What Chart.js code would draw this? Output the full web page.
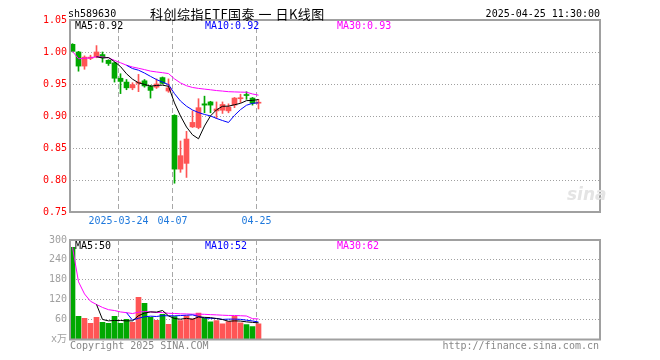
<!DOCTYPE html>
<html><head><meta charset="utf-8">
<script src="https://cdn.jsdelivr.net/npm/chart.js@4.4.1/dist/chart.umd.min.js"></script>
<style>
html,body{margin:0;padding:0;background:#fff;}
#wrap{position:relative;width:660px;height:360px;overflow:hidden;font-family:"DejaVu Sans Mono","Noto Sans CJK SC",monospace;font-size:10px;}
canvas{position:absolute;left:0;}
.t{position:absolute;white-space:nowrap;line-height:12px;}
</style></head><body>
<div id="wrap">
<canvas id="k" width="660" height="230" style="top:0"></canvas>
<canvas id="v" width="660" height="130" style="top:230px"></canvas>
<div class="t" style="left:68px;top:8px;color:#000">sh589630</div>
<div class="t" style="left:150px;top:6px;color:#000;font-family:'Noto Sans CJK SC';font-size:13px;line-height:16px;letter-spacing:0.5px">科创综指ETF国泰 一 日K线图</div>
<div class="t" style="right:60px;top:8px;color:#000">2025-04-25 11:30:00</div>
<div class="t" id="pma5" style="left:75px;top:20px;color:#000"></div>
<div class="t" id="pma10" style="left:205px;top:20px;color:#0000ff"></div>
<div class="t" id="pma30" style="left:337px;top:20px;color:#ff00ff"></div>
<div class="t" id="vma5" style="left:75px;top:240px;color:#000"></div>
<div class="t" id="vma10" style="left:205px;top:240px;color:#0000ff"></div>
<div class="t" id="vma30" style="left:337px;top:240px;color:#ff00ff"></div>
<div class="t" style="left:567px;top:184px;color:#e4e4e4;font-family:'DejaVu Sans';font-weight:bold;font-style:italic;font-size:17px;line-height:20px">sina</div>
<div class="t" style="left:70px;top:340px;color:#888">Copyright 2025 SINA.COM</div>
<div class="t" style="right:61px;top:340px;color:#888">http://finance.sina.com.cn</div>
</div>
<script>
// ---- data ----
const dates = ['2025-03-12','2025-03-13','2025-03-14','2025-03-17','2025-03-18','2025-03-19','2025-03-20','2025-03-21','2025-03-24','2025-03-25','2025-03-26','2025-03-27','2025-03-28','2025-03-31','2025-04-01','2025-04-02','2025-04-03','2025-04-07','2025-04-08','2025-04-09','2025-04-10','2025-04-11','2025-04-14','2025-04-15','2025-04-16','2025-04-17','2025-04-18','2025-04-21','2025-04-22','2025-04-23','2025-04-24','2025-04-25'];
const openP  = [1.012,1.000,0.978,0.990,0.9925,0.996,0.987,0.983,0.959,0.953,0.944,0.951,0.955,0.946,0.945,0.960,0.939,0.901,0.817,0.826,0.883,0.882,0.919,0.922,0.908,0.909,0.908,0.917,0.927,0.933,0.928,0.920];
const highP  = [1.013,1.001,0.994,0.995,1.010,1.000,0.988,0.984,0.966,0.957,0.952,0.965,0.957,0.948,0.958,0.961,0.958,0.902,0.861,0.876,0.908,0.927,0.931,0.923,0.922,0.922,0.919,0.929,0.934,0.938,0.929,0.926];
const lowP   = [1.000,0.970,0.973,0.988,0.991,0.984,0.979,0.953,0.935,0.941,0.941,0.938,0.945,0.928,0.943,0.950,0.937,0.795,0.812,0.804,0.882,0.880,0.905,0.905,0.896,0.904,0.905,0.913,0.921,0.926,0.917,0.911];
const closeP = [1.001,0.978,0.992,0.992,1.000,0.991,0.982,0.959,0.954,0.944,0.949,0.953,0.947,0.940,0.950,0.951,0.944,0.817,0.838,0.864,0.890,0.913,0.917,0.917,0.911,0.918,0.914,0.928,0.928,0.932,0.920,0.921];
const volume = [278,70,64,49,67,52,49,70,49,61,52,127,109,67,58,76,46,69,57,71,62,80,64,53,57,47,54,70,50,45,39,47];
const priceTicks = [0.75,0.80,0.85,0.90,0.95,1.00,1.05];
const volTicks = [0,60,120,180,240,300];
const dateTickIdx = [8,17,31];
const dateTickLabels = ['2025-03-24','04-07','04-25'];

// ---- helpers ----
const RED = '#ff5555', GREEN = '#00a800';
const isUp = i => closeP[i] >= openP[i];
const barColor = i => isUp(i) ? RED : GREEN;
function ma(arr, n, expanding){
  return arr.map((_, i) => {
    if (i < n - 1 && !expanding) return {x:i, y:null};
    const s = Math.max(0, i - n + 1);
    let sum = 0; for (let k = s; k <= i; k++) sum += arr[k];
    return {x:i, y: sum / (i - s + 1)};
  });
}
const pMA5 = ma(closeP,5,false), pMA10 = ma(closeP,10,false), pMA30 = ma(closeP,30,true);
const vMA5 = ma(volume,5,false), vMA10 = ma(volume,10,false), vMA30 = ma(volume,30,true);
const last = a => a[a.length-1].y;
const f2 = v => (Math.floor(v*100 + 1e-7)/100).toFixed(2);
document.getElementById('pma5').textContent = 'MA5:' + f2(last(pMA5));
document.getElementById('pma10').textContent = 'MA10:' + f2(last(pMA10));
document.getElementById('pma30').textContent = 'MA30:' + f2(last(pMA30));
document.getElementById('vma5').textContent = 'MA5:' + Math.floor(last(vMA5));
document.getElementById('vma10').textContent = 'MA10:' + Math.floor(last(vMA10));
document.getElementById('vma30').textContent = 'MA30:' + Math.floor(last(vMA30));

const xMin = -2.5/6, xMax = xMin + 530/6;
const FONT = {family:"'DejaVu Sans Mono','Noto Sans CJK SC',monospace", size:10};

const frame = {
  id:'frame',
  afterDraw(chart){
    const {ctx, chartArea:a} = chart;
    ctx.save(); ctx.strokeStyle = '#a0a0a0'; ctx.lineWidth = 2;
    ctx.strokeRect(a.left, a.top, a.right - a.left, a.bottom - a.top);
    ctx.restore();
  }
};

function xScale(showLabels, h){
  return {
    type:'linear', min:xMin, max:xMax, offset:false,
    afterBuildTicks(s){ s.ticks = dateTickIdx.map(i => ({value:i - 1/3})); },
    ticks:{display:showLabels, autoSkip:false, maxRotation:0, padding:3, color:'#1e78dc', font:FONT,
      callback:(v,k) => dateTickLabels[k]},
    grid:{color:'#a8a8a8', drawTicks:false, lineWidth:1, offset:false},
    border:{display:false, dash:[5,3]},
    afterFit(s){ s.height = h; }
  };
}
const lineDs = (data, color) => ({type:'line', data, borderColor:color, borderWidth:1, pointRadius:0, tension:0, order:0, spanGaps:false});

new Chart(document.getElementById('k'), {
  type:'bar',
  data:{datasets:[
    lineDs(pMA5,'#000000'), lineDs(pMA10,'#0000ff'), lineDs(pMA30,'#ff00ff'),
    {type:'bar', data: dates.map((_, i) => ({x:i, y:[openP[i], closeP[i]]})), backgroundColor: c => barColor(c.dataIndex), barThickness:5, minBarLength:1, grouped:false, order:1},
    {type:'bar', data: dates.map((_, i) => ({x:i, y:[lowP[i], highP[i]]})), backgroundColor: c => barColor(c.dataIndex), barThickness:1, grouped:false, order:2}
  ]},
  options:{
    responsive:false, animation:false, events:[],
    layout:{padding:{left:0, right:60, top:20, bottom:0}},
    plugins:{legend:{display:false}, tooltip:{enabled:false}},
    scales:{
      x: xScale(true, 18),
      y:{min:0.75, max:1.05,
        afterBuildTicks(s){ s.ticks = priceTicks.map(v => ({value:v})); },
        ticks:{color:'#ff0000', padding:3, font:FONT, callback:v => Number(v).toFixed(2)},
        grid:{color:'#a0a0a0', drawTicks:false},
        border:{display:false, dash:[1,2]},
        afterFit(s){ s.width = 70; }
      }
    }
  },
  plugins:[frame]
});

new Chart(document.getElementById('v'), {
  type:'bar',
  data:{datasets:[
    lineDs(vMA5,'#000000'), lineDs(vMA10,'#0000ff'), lineDs(vMA30,'#ff00ff'),
    {type:'bar', data: volume.map((v, i) => ({x:i, y:v})), backgroundColor: c => barColor(c.dataIndex), barThickness:5, grouped:false, order:1}
  ]},
  options:{
    responsive:false, animation:false, events:[],
    layout:{padding:{left:0, right:60, top:10, bottom:0}},
    plugins:{legend:{display:false}, tooltip:{enabled:false}},
    scales:{
      x: xScale(false, 20.5),
      y:{min:0, max:300,
        afterBuildTicks(s){ s.ticks = volTicks.map(v => ({value:v})); },
        ticks:{color:'#a0a0a0', padding:3, font:FONT, callback:v => v === 0 ? 'x万' : String(v)},
        grid:{color:'#a0a0a0', drawTicks:false},
        border:{display:false, dash:[1,2]},
        afterFit(s){ s.width = 70; }
      }
    }
  },
  plugins:[frame]
});
</script>
</body></html>
